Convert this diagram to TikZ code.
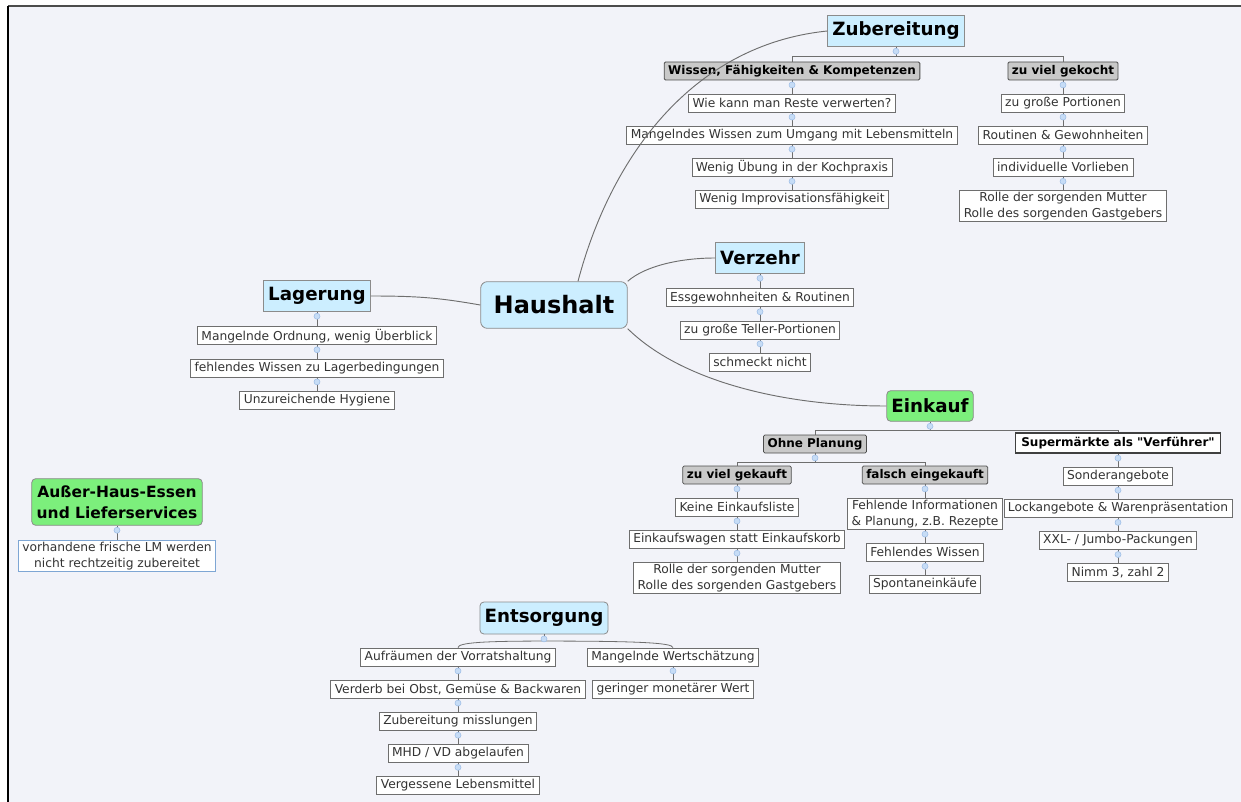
\documentclass[tikz,border=0pt]{standalone}
\usepackage{fontspec}
\setmainfont{DejaVu Sans}
\newfontfamily\plainquotes{DejaVu Sans}[Ligatures=TeXOff]
\usetikzlibrary{positioning,calc}
\definecolor{paper}{HTML}{F2F3F9}
\definecolor{topicblue}{HTML}{CCEEFF}
\definecolor{topicgreen}{HTML}{7CEF7C}
\definecolor{subgray}{HTML}{C9C9C9}
\definecolor{edgegray}{HTML}{6E6E6E}
\definecolor{leaftext}{HTML}{333333}
\definecolor{knobfill}{HTML}{C6DCF6}
\definecolor{knobline}{HTML}{9DBDE6}
\definecolor{paleblue}{HTML}{7EA6D4}
\newcommand{\leaffont}{\fontsize{9.2}{12}\selectfont}
\newcommand{\topicfont}{\fontsize{13.7}{16}\selectfont\bfseries}

\begin{document}
\begin{tikzpicture}[x=0.75pt, y=-0.75pt,
  leaf/.style={draw=edgegray, fill=white, text=leaftext, align=center,
    font=\leaffont, inner xsep=3pt, inner ysep=1.2pt,
    minimum height=13.5pt, line width=0.6pt},
  subhead/.style={leaf, fill=subgray, draw=black!70, text=black,
    rounded corners=1pt, font=\fontsize{9}{11}\selectfont\bfseries},
  lure/.style={leaf, draw=black!75, text=black, line width=0.9pt,
    inner xsep=4.6pt, minimum height=15pt,
    font=\plainquotes\fontsize{9}{11}\selectfont\bfseries},
  topic/.style={draw=edgegray!80, fill=topicblue, font=\topicfont,
    inner xsep=3.5pt, minimum height=23pt, line width=0.6pt},
  greentopic/.style={topic, fill=topicgreen, rounded corners=3pt},
  knob/.style={circle, fill=knobfill, draw=knobline, inner sep=0pt,
    minimum size=4.5pt, line width=0.4pt},
  link/.style={draw=edgegray, line width=0.6pt},
  branch/.style={draw=edgegray, line width=0.7pt},
  node distance=10pt
]
\useasboundingbox (0,0) rectangle (1241,802);
\fill[paper] (8,6) rectangle (1241,802);
\draw[black!70, line width=1.6pt] (8,6) -- (1241,6);
\draw[black, line width=1.6pt] (8,6) -- (8,802);

% centre
\node[topic, rounded corners=5pt, font=\fontsize{18}{20}\selectfont\bfseries,
  minimum width=110pt, minimum height=35pt] (haus) at (554,305) {Haushalt};

% Zubereitung
\node[topic] (zub) at (896,31) {Zubereitung};
\node[subhead] (wis) at (792,71) {Wissen, Fähigkeiten \& Kompetenzen};
\node[subhead] (zvg) at (1063,71) {zu viel gekocht};
\node[leaf, below=of wis] (wie) {Wie kann man Reste verwerten?};
\node[leaf, below=of wie] (mang) {Mangelndes Wissen zum Umgang mit Lebensmitteln};
\node[leaf, below=of mang] (uebg) {Wenig Übung in der Kochpraxis};
\node[leaf, below=of uebg] (impro) {Wenig Improvisationsfähigkeit};
\node[leaf, below=of zvg] (grp) {zu große Portionen};
\node[leaf, below=of grp] (rout) {Routinen \& Gewohnheiten};
\node[leaf, below=of rout] (indiv) {individuelle Vorlieben};
\node[leaf, below=of indiv] (mutter) {Rolle der sorgenden Mutter\\Rolle des sorgenden Gastgebers};

% Lagerung
\node[topic] (lag) at (317,296) {Lagerung};
\node[leaf, below=11pt of lag] (ord) {Mangelnde Ordnung, wenig Überblick};
\node[leaf, below=of ord] (lagw) {fehlendes Wissen zu Lagerbedingungen};
\node[leaf, below=of lagw] (hyg) {Unzureichende Hygiene};

% Verzehr
\node[topic] (verz) at (760,258) {Verzehr};
\node[leaf, below=11pt of verz] (ess) {Essgewohnheiten \& Routinen};
\node[leaf, below=of ess] (tel) {zu große Teller-Portionen};
\node[leaf, below=of tel] (schm) {schmeckt nicht};

% Einkauf
\node[greentopic] (eink) at (930,406) {Einkauf};
\node[subhead] (ohne) at (815,444) {Ohne Planung};
\node[lure] (super) at (1118,443) {Supermärkte als "Verführer"};
\node[subhead] (zvk) at (737,475) {zu viel gekauft};
\node[subhead] (fals) at (925,475) {falsch eingekauft};
\node[leaf, below=of zvk] (keine) {Keine Einkaufsliste};
\node[leaf, below=of keine] (wagen) {Einkaufswagen statt Einkaufskorb};
\node[leaf, below=of wagen] (gast) {Rolle der sorgenden Mutter\\Rolle des sorgenden Gastgebers};
\node[leaf, below=of fals] (finfo) {Fehlende Informationen\\\& Planung, z.B. Rezepte};
\node[leaf, below=of finfo] (fwis) {Fehlendes Wissen};
\node[leaf, below=of fwis] (spont) {Spontaneinkäufe};
\node[leaf, below=10pt of super] (sond) {Sonderangebote};
\node[leaf, below=of sond] (lock) {Lockangebote \& Warenpräsentation};
\node[leaf, below=of lock] (xxl) {XXL- / Jumbo-Packungen};
\node[leaf, below=of xxl] (nimm) {Nimm 3, zahl 2};

% Ausser-Haus
\node[greentopic, align=center, font=\fontsize{11.6}{15.5}\selectfont\bfseries,
  minimum height=35pt, inner xsep=3.75pt] (aus) at (117,502)
  {Außer-Haus-Essen\\und Lieferservices};
\node[leaf, draw=paleblue, below=10.5pt of aus] (vorh)
  {vorhandene frische LM werden\\nicht rechtzeitig zubereitet};

% Entsorgung
\node[topic, rounded corners=3pt, minimum height=24pt] (ent) at (544,618) {Entsorgung};
\node[leaf] (aufr) at (458,657) {Aufräumen der Vorratshaltung};
\node[leaf] (mwert) at (673,657) {Mangelnde Wertschätzung};
\node[leaf, below=of aufr] (verd) {Verderb bei Obst, Gemüse \& Backwaren};
\node[leaf, below=of verd] (zmis) {Zubereitung misslungen};
\node[leaf, below=of zmis] (mhd) {MHD / VD abgelaufen};
\node[leaf, below=of mhd] (verg) {Vergessene Lebensmittel};
\node[leaf, below=of mwert] (geld) {geringer monetärer Wert};

% main branches
\draw[branch] ([xshift=18pt]haus.north) .. controls (610,160) and (690,45) .. (zub.west);
\draw[branch] (haus.north east) .. controls (645,266) and (680,258) .. (verz.west);
\draw[branch] (haus.south east) .. controls (680,380) and (780,406) .. (eink.west);
\draw[branch] (haus.west) .. controls (440,298) and (420,296) .. (lag.east);

% forks
\draw[link] (zub.south) -- ++(0,-7.5pt) -| (wis.north);
\draw[link] (zub.south) -- ++(0,-7.5pt) -| (zvg.north);
\draw[link] (eink.south) -- ++(0,-6.75pt) -| (ohne.north);
\draw[link] (eink.south) -- ++(0,-6.75pt) -| (super.north);
\draw[link] (ohne.south) -- ++(0,-6.75pt) -| (zvk.north);
\draw[link] (ohne.south) -- ++(0,-6.75pt) -| (fals.north);
\coordinate (entfork) at ([yshift=-5pt]ent.south);
\draw[link] (ent.south) -- (entfork);
\draw[link] (entfork) .. controls +(-60,0) and +(0,-5) .. (aufr.north);
\draw[link] (entfork) .. controls +(90,0) and +(0,-5) .. (mwert.north);

% chains
\foreach \a/\b in {wis/wie, wie/mang, mang/uebg, uebg/impro,
  zvg/grp, grp/rout, rout/indiv, indiv/mutter,
  lag/ord, ord/lagw, lagw/hyg, verz/ess, ess/tel, tel/schm,
  zvk/keine, keine/wagen, wagen/gast, fals/finfo, finfo/fwis, fwis/spont,
  super/sond, sond/lock, lock/xxl, xxl/nimm, aus/vorh,
  aufr/verd, verd/zmis, zmis/mhd, mhd/verg, mwert/geld}
  \draw[link] (\a.south) -- (\b.north);

% collapse knobs
\foreach \p in {zub, wis, wie, mang, uebg, zvg, grp, rout, indiv,
  lag, ord, lagw, verz, ess, tel, eink, ohne, zvk, keine, wagen,
  fals, finfo, fwis, super, sond, lock, xxl, aus, ent, aufr, verd,
  zmis, mhd, mwert}
  \node[knob] at ([yshift=-3.4pt]\p.south) {};
\end{tikzpicture}
\end{document}
